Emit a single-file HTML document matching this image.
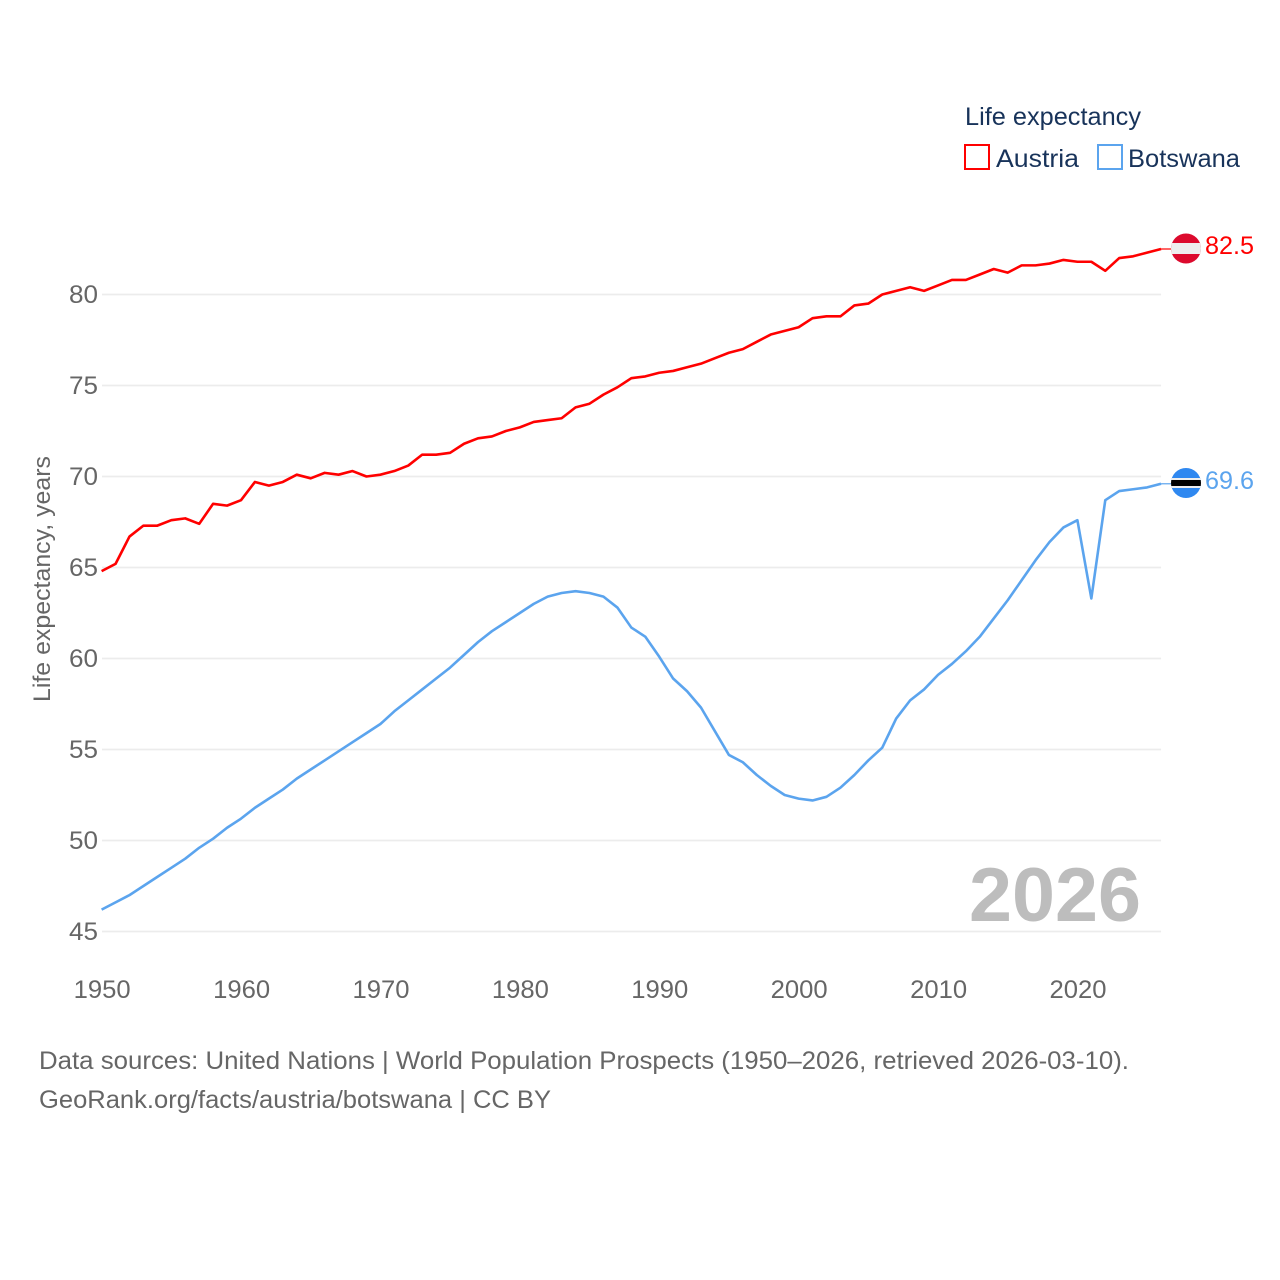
<!DOCTYPE html>
<html lang="en">
<head>
<meta charset="utf-8">
<title>Life expectancy: Austria and Botswana</title>
<style>
html,body{margin:0;padding:0;background:#fff;}
svg{display:block;font-family:"Liberation Sans",sans-serif;}
</style>
</head>
<body>
<svg id="chart" xmlns="http://www.w3.org/2000/svg" width="1280" height="1280" viewBox="0 0 1280 1280">
  <rect width="1280" height="1280" fill="#fff"/>
  <g id="grid"></g>
  <g id="yticks"></g>
  <g id="xticks"></g>
  <text transform="translate(50 579) rotate(-90)" text-anchor="middle" font-size="24" fill="#666" textLength="246" lengthAdjust="spacingAndGlyphs">Life expectancy, years</text>
  <text x="1141" y="921" text-anchor="end" font-size="76" font-weight="700" fill="#bdbdbd" textLength="172" lengthAdjust="spacingAndGlyphs">2026</text>
  <g id="series"></g>

  <g>
    <text x="965" y="125" font-size="25" fill="#18335a" textLength="176" lengthAdjust="spacingAndGlyphs">Life expectancy</text>
    <g>
      <rect x="965" y="145" width="24" height="24" fill="none" stroke="#ff0000" stroke-width="2"/>
      <text x="996" y="167" font-size="25" fill="#18335a" textLength="83" lengthAdjust="spacingAndGlyphs">Austria</text>
    </g>
    <g>
      <rect x="1098" y="145" width="24" height="24" fill="none" stroke="#5ba4ee" stroke-width="2"/>
      <text x="1128" y="167" font-size="25" fill="#18335a" textLength="112" lengthAdjust="spacingAndGlyphs">Botswana</text>
    </g>
  </g>

  <g>
    <text x="39" y="1069" font-size="25" fill="#666" textLength="1090" lengthAdjust="spacingAndGlyphs">Data sources: United Nations | World Population Prospects (1950–2026, retrieved 2026-03-10).</text>
    <text x="39" y="1108" font-size="25" fill="#666" textLength="512" lengthAdjust="spacingAndGlyphs">GeoRank.org/facts/austria/botswana | CC BY</text>
  </g>

  <defs>
    <clipPath id="clip-at"><circle cx="1186" cy="248.5" r="15"/></clipPath>
    <clipPath id="clip-bw"><circle cx="1186" cy="483" r="15"/></clipPath>
  </defs>
  <g id="flag-austria">
    <g clip-path="url(#clip-at)">
      <rect x="1171" y="233" width="30" height="31" fill="#dc0a2d"/>
      <rect x="1171" y="243" width="30" height="11" fill="#eeeeee"/>
    </g>
  </g>
  <g id="flag-botswana">
    <g clip-path="url(#clip-bw)">
      <rect x="1171" y="468" width="30" height="30" fill="#2f88f0"/>
      <rect x="1171" y="478" width="30" height="10" fill="#eeeeee"/>
      <rect x="1171" y="480" width="30" height="6" fill="#000"/>
    </g>
  </g>
  <text x="1205" y="254" font-size="25" fill="#ff0000" textLength="49" lengthAdjust="spacingAndGlyphs">82.5</text>
  <text x="1205" y="489" font-size="25" fill="#5ba4ee" textLength="49" lengthAdjust="spacingAndGlyphs">69.6</text>
</svg>
<script>
const startYear = 1950;
const xTickYears = [1950, 1960, 1970, 1980, 1990, 2000, 2010, 2020];
const yTickValues = [45, 50, 55, 60, 65, 70, 75, 80];
const austriaValues = [64.8,65.2,66.7,67.3,67.3,67.6,67.7,67.4,68.5,68.4,68.7,69.7,69.5,69.7,70.1,69.9,70.2,70.1,70.3,70.0,70.1,70.3,70.6,71.2,71.2,71.3,71.8,72.1,72.2,72.5,72.7,73.0,73.1,73.2,73.8,74.0,74.5,74.9,75.4,75.5,75.7,75.8,76.0,76.2,76.5,76.8,77.0,77.4,77.8,78.0,78.2,78.7,78.8,78.8,79.4,79.5,80.0,80.2,80.4,80.2,80.5,80.8,80.8,81.1,81.4,81.2,81.6,81.6,81.7,81.9,81.8,81.8,81.3,82.0,82.1,82.3,82.5];
const botswanaValues = [46.2,46.6,47.0,47.5,48.0,48.5,49.0,49.6,50.1,50.7,51.2,51.8,52.3,52.8,53.4,53.9,54.4,54.9,55.4,55.9,56.4,57.1,57.7,58.3,58.9,59.5,60.2,60.9,61.5,62.0,62.5,63.0,63.4,63.6,63.7,63.6,63.4,62.8,61.7,61.2,60.1,58.9,58.2,57.3,56.0,54.7,54.3,53.6,53.0,52.5,52.3,52.2,52.4,52.9,53.6,54.4,55.1,56.7,57.7,58.3,59.1,59.7,60.4,61.2,62.2,63.2,64.3,65.4,66.4,67.2,67.6,63.3,68.7,69.2,69.3,69.4,69.6];

const NS = 'http://www.w3.org/2000/svg';
function xScale(year){ return 101.6 + (year - 1950) * (1077.4 - 101.6) / 70; }
function yScale(v){ return 294.5 + (80 - v) * (931.5 - 294.5) / 35; }
function make(tag, attrs, parent){
  const el = document.createElementNS(NS, tag);
  for (const k in attrs) el.setAttribute(k, attrs[k]);
  parent.appendChild(el);
  return el;
}
const gridG = document.getElementById('grid');
const yG = document.getElementById('yticks');
const xG = document.getElementById('xticks');
const seriesG = document.getElementById('series');
const xEnd = xScale(startYear + austriaValues.length - 1);

yTickValues.forEach(function(v){
  const line = make('line', {x1:102, x2:xEnd, y1:yScale(v), y2:yScale(v), stroke:'#ececec', 'stroke-width':1.8}, gridG);
  
  
  const t = make('text', {x:98, y:yScale(v) + 8.5, 'text-anchor':'end', 'font-size':25, fill:'#666', textLength:29, lengthAdjust:'spacingAndGlyphs'}, yG);
  
  
  t.textContent = v;
});

xTickYears.forEach(function(y){
  const t = make('text', {x:xScale(y) + 0.6, y:998, 'text-anchor':'middle', 'font-size':25, fill:'#666', textLength:57, lengthAdjust:'spacingAndGlyphs'}, xG);
  
  
  t.textContent = y;
});

function linePoints(values){
  return values.map(function(v, i){
    return xScale(startYear + i).toFixed(2) + ',' + yScale(v).toFixed(2);
  }).join(' ');
}
function drawSeries(values, colour, key){
  const line = make('polyline', {points:linePoints(values), fill:'none', stroke:colour, 'stroke-width':2.6, 'stroke-linejoin':'round'}, seriesG);
  
  
  const endY = yScale(values[values.length - 1]);
  const conn = make('line', {x1:xEnd, x2:1172, y1:endY, y2:endY, stroke:colour, 'stroke-width':1.2}, seriesG);
  
  
}
drawSeries(austriaValues, '#ff0000', 'austria');
drawSeries(botswanaValues, '#5ba4ee', 'botswana');
</script>
</body>
</html>
